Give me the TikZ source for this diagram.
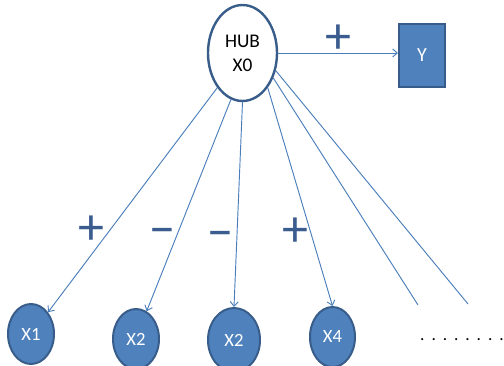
\documentclass[tikz,border=0pt]{standalone}
\usepackage{fontspec}
\setmainfont{Carlito}
\usetikzlibrary{shapes.geometric,arrows.meta}
\definecolor{boxblue}{HTML}{4F81BD}
\definecolor{edgeblue}{HTML}{385D8A}
\definecolor{signblue}{HTML}{3B5C8E}
\definecolor{lineblue}{HTML}{4A7EBB}
\begin{document}
\begin{tikzpicture}[x=0.75pt, y=-0.75pt,
        var/.style={ellipse, draw=edgeblue, line width=1.5pt, fill=boxblue,
            text=white, inner sep=0pt, font=\fontsize{14}{16}\selectfont},
        link/.style={-{Straight Barb[length=3.5pt,width=6pt]}, lineblue, line width=0.7pt},
        plain/.style={lineblue, line width=0.7pt},
        sign/.style={signblue, inner sep=0pt, font=\fontsize{39}{39}\selectfont}]
    \useasboundingbox
        (0,0) rectangle (504,366);
    \node
        [ellipse, draw=edgeblue, line width=1.8pt, fill=white, inner sep=0pt,
         minimum width=51.75pt, minimum height=72pt, align=center,
         font=\fontsize{14.5}{18}\selectfont] (hub) at (242.5,53) {HUB\\X0};
    \node
        [rectangle, draw=edgeblue, line width=1.5pt, fill=boxblue, text=white,
         minimum width=34.5pt, minimum height=47.25pt,
         font=\fontsize{15}{17}\selectfont] (y) at (422,55.5) {Y};
    \node
        [var, minimum width=34.5pt, minimum height=45pt] (x1) at (31,334) {X1};
    \node
        [var, minimum width=34.5pt, minimum height=45pt] (x2a) at (136,339) {X2};
    \node
        [var, minimum width=39pt, minimum height=48pt] (x2b) at (234,340) {X2};
    \node
        [var, minimum width=33.75pt, minimum height=45pt] (x4) at (332.5,337) {X4};
    \coordinate
        (end5) at (418,305);
    \coordinate
        (end6) at (468,304);
    \node
        [font=\fontsize{13}{15}\selectfont\addfontfeature{LetterSpace=40}] (dots) at (462,340) {........};
    \draw
        [link] (hub.east) -- (hub.east -| y.west);
    \draw
        [link] (hub.234) -- (x1.52);
    \draw
        [link] (hub.256) -- (x2a.69);
    \draw
        [link] (hub.270) -- (x2b.north);
    \draw
        [link] (hub.306) -- (x4.north);
    \draw
        [plain] (hub.321) -- (end5);
    \draw
        [plain] (hub.332) -- (end6);
    \node
        [sign] (plusy) at (338,39) {\vphantom{+}+};
    \node
        [sign] (plus1) at (91,230) {\vphantom{+}+};
    \node
        [sign] (minus1) at (162,232) {\vphantom{+}−};
    \node
        [sign] (minus2) at (220,235) {\vphantom{+}−};
    \node
        [sign] (plus4) at (295,232) {\vphantom{+}+};
\end{tikzpicture}
\end{document}
